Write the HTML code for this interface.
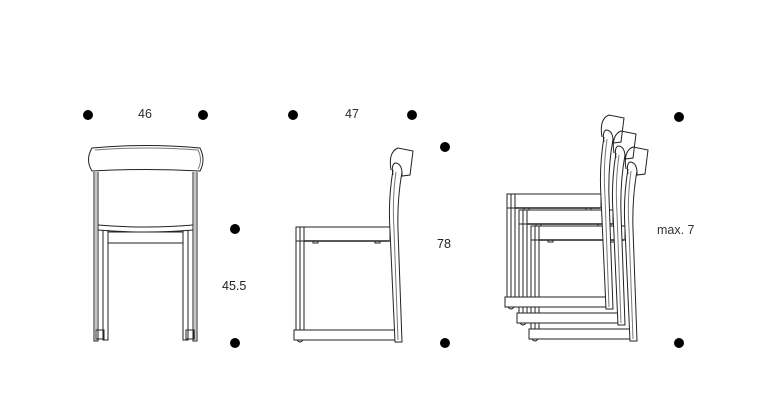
<!DOCTYPE html>
<html><head><meta charset="utf-8"><style>
html,body{margin:0;padding:0;background:#fff;}
svg{display:block}
text{font-family:"Liberation Sans",sans-serif;font-size:12.5px;fill:#222}
</style></head><body>
<svg width="768" height="400" viewBox="0 0 768 400" xmlns="http://www.w3.org/2000/svg">
<g fill="#000">
<circle cx="88" cy="115" r="5"/><circle cx="203" cy="115" r="5"/>
<circle cx="293" cy="115" r="5"/><circle cx="412" cy="115" r="5"/>
<circle cx="445" cy="147" r="5"/><circle cx="235" cy="229" r="5"/>
<circle cx="235" cy="343" r="5"/><circle cx="445" cy="343" r="5"/>
<circle cx="679" cy="117" r="5"/><circle cx="679" cy="343" r="5"/>
</g>
<text x="138" y="118" style="fill:#3a2a20">46</text>
<text x="345" y="118" style="fill:#3a2a20">47</text>
<text x="222" y="290">45.5</text>
<text x="437" y="248">78</text>
<text x="657" y="234" style="fill:#333">max. 7</text>

<g fill="none" stroke="#222" stroke-width="1">
<path d="M94 172 L94 341 L98 341 L98 172 M193 172 L193 341 L197 341 L197 172"/>
<path d="M96 172 L96 341 M195 172 L195 341" stroke="#888"/>
<path d="M92 148 Q146 143 200 148 Q206 160 200 171 Q146 168 92 171 Q85 160 92 148 Z"/>
<path d="M95 150 Q146 146 198 150 Q203 160 198 169" stroke="#777"/>
<path d="M98 225 Q146 229 193 225 M98 230 Q146 234 193 230"/>
<path d="M103 230 L103 340 L108 340 L108 230 M183 230 L183 340 L188 340 L188 230"/>
<path d="M108 232 L183 232 M108 243 L183 243"/>
<rect x="96" y="330" width="8" height="9"/><rect x="186" y="330" width="8" height="9"/>
</g>

<defs>
<g id="side" stroke="#222" stroke-width="1">
<rect x="296" y="227" width="94" height="14" fill="#fff"/>
<g fill="none">
<path d="M296 227 L390 227 M296 227 L296 332 M300 227 L300 330 M304 227 L304 330"/>
<path d="M304 241 L389 241" stroke-width="1.6"/>
<path d="M294 330 L396 330 L396 340 L294 340 Z" fill="#fff"/>
<path d="M297 340 Q300 344 303 340" />
<path d="M313 241 L313 243 L318 243 L318 241 M375 241 L375 243 L380 243 L380 241"/>
<path d="M393 170 Q388 200 390 230 L395 342 L402 342 L398 230 Q397 200 402 172" fill="#fff"/>
<path d="M396 172 Q392 200 394 230 L398 340" stroke="#777"/>
<path d="M391 170 Q388 152 398 148 L413 151 L410 175 L402 176 L402 172 Q401 163 395 163 Q391 165 393 175"/>
</g>
</g>
</defs>
<use href="#side"/>
<g transform="translate(235,-1)"><use href="#side"/></g>
<g transform="translate(223,-17)"><use href="#side"/></g>
<g transform="translate(211,-33)"><use href="#side"/></g>
</svg>
</body></html>
